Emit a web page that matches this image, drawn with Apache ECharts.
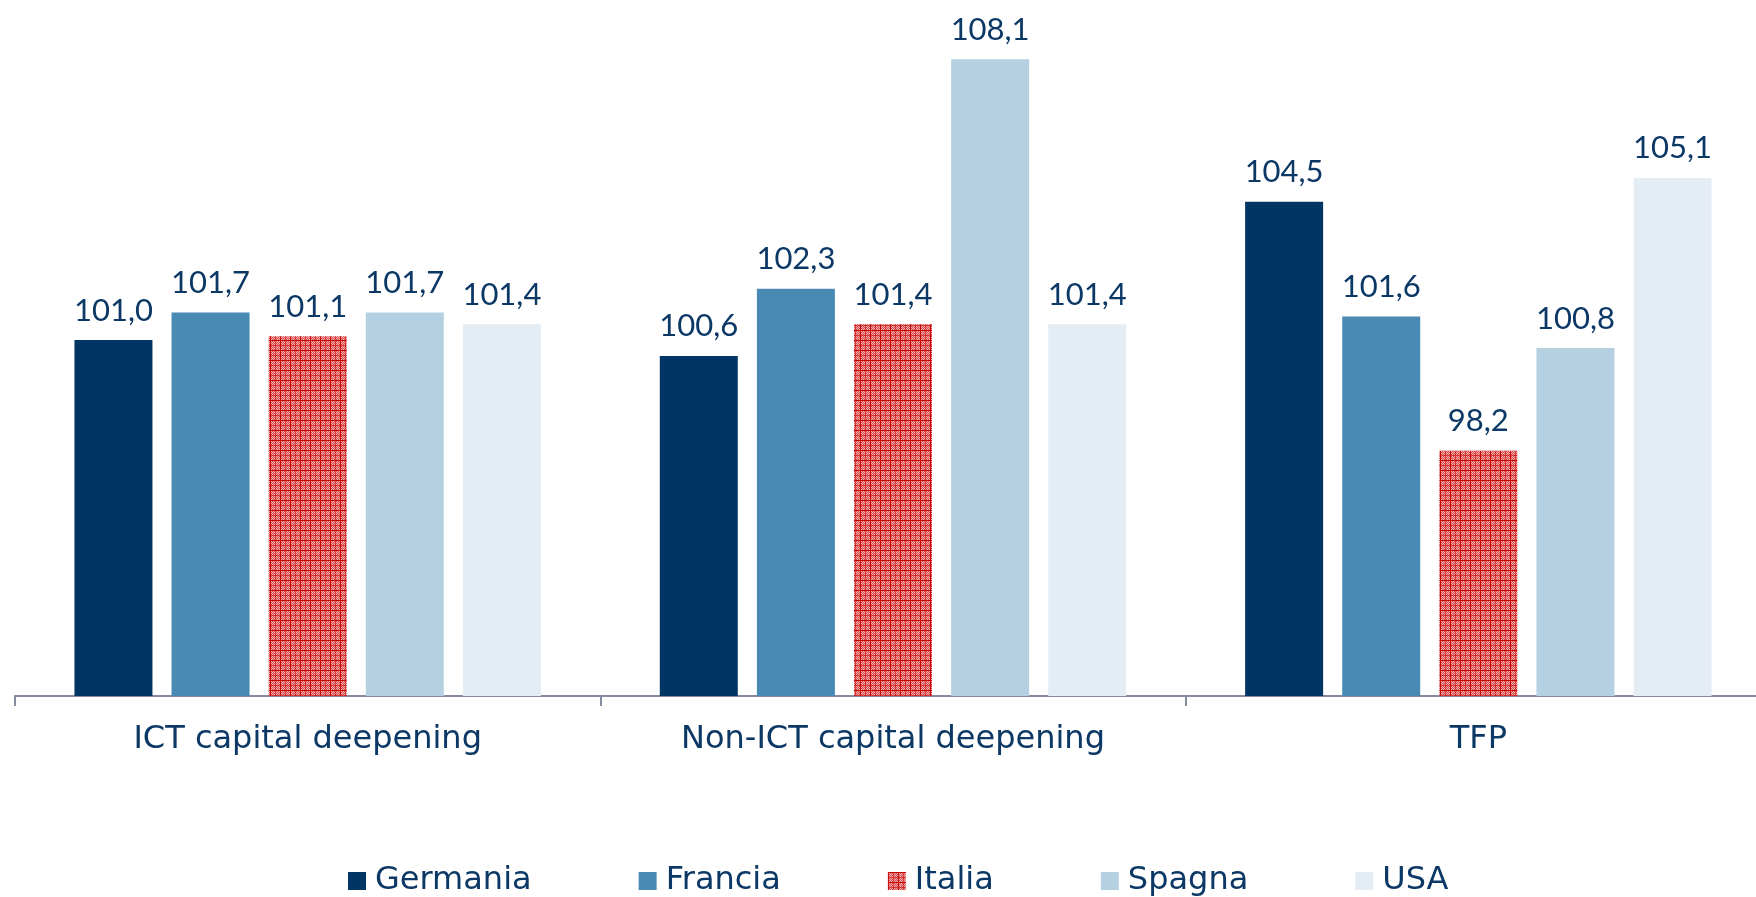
<!DOCTYPE html>
<html>
<head>
<meta charset="utf-8">
<script src="https://cdn.jsdelivr.net/npm/echarts@6/dist/echarts.min.js"></script>
<style>
html,body{margin:0;padding:0;background:#fff;overflow:hidden;width:1756px;height:897px;}
#chart{width:1771px;height:897px;}
</style>
</head>
<body>
<div id="chart"></div>
<script>
const categories = ['ICT capital deepening', 'Non-ICT capital deepening', 'TFP'];
const seriesNames = ['Germania', 'Francia', 'Italia', 'Spagna', 'USA'];
const germania = [101.0, 100.6, 104.5];
const francia = [101.7, 102.3, 101.6];
const italia = [101.1, 101.4, 98.2];
const spagna = [101.7, 108.1, 100.8];
const usa = [101.4, 101.4, 105.1];

function makePattern() {
  const c = document.createElement('canvas');
  c.width = 10; c.height = 10;
  const g = c.getContext('2d');
  g.fillStyle = '#e47c7c';
  g.fillRect(0, 0, 10, 10);
  for (let y = 0; y < 10; y++) {
    for (let x = 0; x < 10; x++) {
      if ((x + y) % 2 === 0) { g.fillStyle = '#f3b4b4'; g.fillRect(x, y, 1, 1); }
      else { g.fillStyle = '#d84848'; g.fillRect(x, y, 1, 1); }
    }
  }
  g.fillStyle = '#c40000';
  g.fillRect(0, 0, 10, 1);
  g.fillRect(0, 0, 1, 10);
  g.fillStyle = 'rgba(200,0,0,0.55)';
  g.fillRect(0, 5, 10, 1);
  g.fillRect(5, 0, 1, 10);
  return c;
}

const colors = ['#003564', '#488ab4', null, '#b4d0e1', '#e4ecf4'];
const dataSets = [germania, francia, italia, spagna, usa];
const pattern = makePattern();

const numFont = 'Lato, "Open Sans", sans-serif';
const txtFont = '"DejaVu Sans", sans-serif';
const textColor = '#0c3866';

const series = seriesNames.map((name, i) => ({
  name: name,
  type: 'bar',
  data: dataSets[i],
  barWidth: 78,
  barGap: '24.5%',
  itemStyle: {
    color: i === 2 ? { image: pattern, repeat: 'repeat' } : colors[i]
  },
  label: {
    show: true,
    position: 'top',
    distance: 14,
    color: textColor,
    fontFamily: numFont,
    fontSize: 31,
    formatter: p => p.value.toFixed(1).replace('.', ',')
  }
}));

const chart = echarts.init(document.getElementById('chart'));
chart.setOption({
  animation: false,
  backgroundColor: '#ffffff',
  grid: { left: 15, right: 0, top: 4, bottom: 201, containLabel: false },
  legend: {
    data: seriesNames,
    top: 860,
    left: 343,
    icon: 'rect',
    itemWidth: 18,
    itemHeight: 18,
    itemGap: 107,
    textStyle: { color: textColor, fontFamily: txtFont, fontSize: 32, padding: [0, 0, 0, 4] }
  },
  xAxis: {
    type: 'category',
    data: categories,
    axisLine: { lineStyle: { color: '#868ca0', width: 2 } },
    axisTick: { show: true, length: 10, lineStyle: { color: '#868ca0', width: 2 } },
    axisLabel: { color: textColor, fontFamily: txtFont, fontSize: 32, margin: 28 }
  },
  yAxis: {
    type: 'value',
    min: 92,
    max: 109.5,
    show: false,
    splitLine: { show: false }
  },
  series: series
});
</script>
</body>
</html>
